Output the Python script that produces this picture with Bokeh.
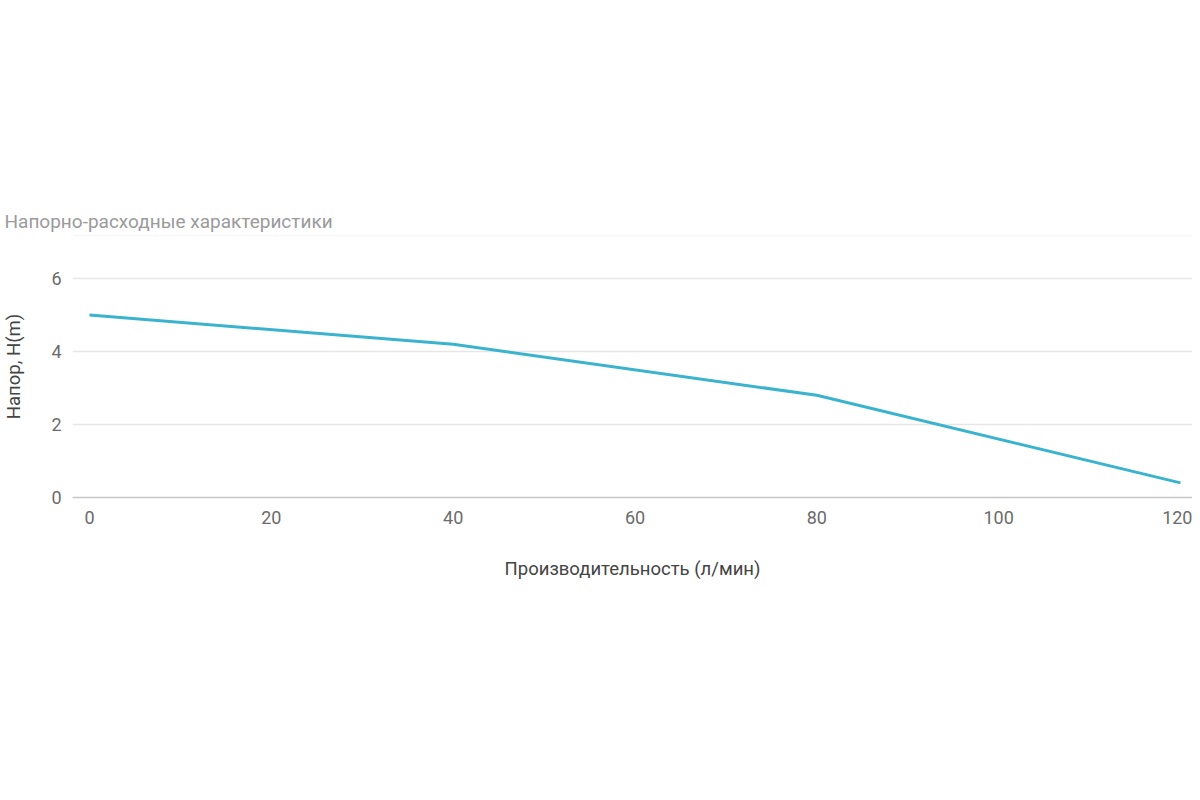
from bokeh.plotting import figure
from bokeh.models import Range1d, FixedTicker, Span, Title
from bokeh.embed import file_html
from bokeh.resources import INLINE

flow = [0, 40, 80, 120]
head = [5.0, 4.2, 2.8, 0.4]
x_ticks = [0, 20, 40, 60, 80, 100, 120]
y_ticks = [0, 2, 4, 6]
title_text = "Напорно-расходные характеристики"
x_label = "Производительность (л/мин)"
y_label = "Напор, H(m)"

FONT = "Roboto"

p = figure(width=1192, height=784, output_backend="svg", toolbar_location=None,
           x_range=Range1d(-1.87, 121.32), y_range=Range1d(0, 7.18),
           min_border_top=235, min_border_bottom=287, min_border_left=68, min_border_right=0)

t = Title(text=title_text, align="left", offset=-68, text_font=FONT, text_font_size="19px",
          text_color="#9a9a9a", text_font_style="normal", standoff=5)
p.add_layout(t, "above")

p.line(flow, head, line_color="#3ab3cf", line_width=3)

p.outline_line_color = None
p.background_fill_color = "white"
p.border_fill_color = "white"

p.xgrid.grid_line_color = None
p.ygrid.grid_line_color = "#e6e6e6"
p.ygrid.grid_line_width = 1.5

p.xaxis.ticker = FixedTicker(ticks=x_ticks)
p.yaxis.ticker = FixedTicker(ticks=y_ticks)
for ax in (p.xaxis, p.yaxis):
    ax.major_tick_line_color = None
    ax.minor_tick_line_color = None
    ax.major_tick_out = 0
    ax.major_tick_in = 0
    ax.minor_tick_out = 0
    ax.major_label_text_font = FONT
    ax.major_label_text_font_size = "18px"
    ax.major_label_text_color = "#6b6b6b"
    ax.axis_label_text_font = FONT
    ax.axis_label_text_font_size = "18.5px"
    ax.axis_label_text_font_style = "normal"
    ax.axis_label_text_color = "#444444"

p.xaxis.axis_line_color = "#c8c8c8"
p.xaxis.axis_line_width = 1.5
p.yaxis.axis_line_color = None
p.xaxis.axis_label = x_label
p.yaxis.axis_label = y_label
p.xaxis.major_label_standoff = 13
p.xaxis.axis_label_standoff = 31
p.yaxis.major_label_standoff = 11
p.yaxis.axis_label_standoff = 23

sep = Span(location=7.18, dimension="width", line_color="#eeeeee", line_width=1.5)
p.add_layout(sep)

open("out.html", "w").write(file_html(p, INLINE))
